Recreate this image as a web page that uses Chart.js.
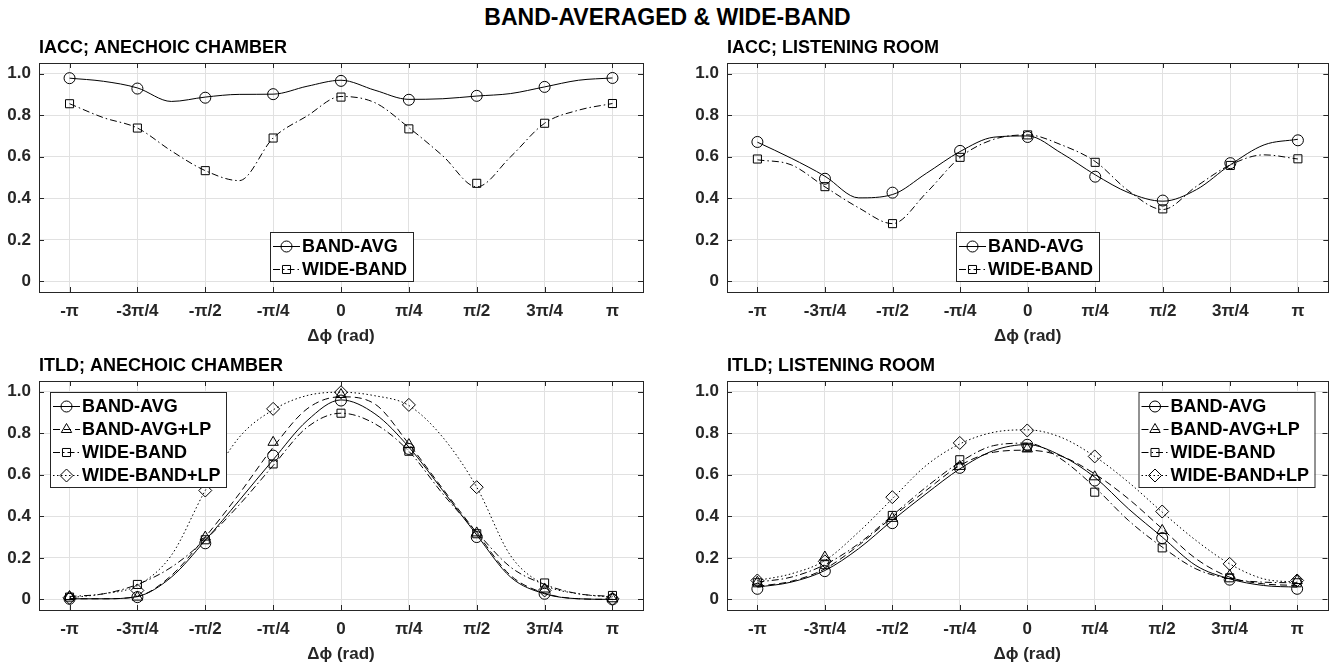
<!DOCTYPE html>
<html>
<head>
<meta charset="utf-8">
<script src="https://cdn.jsdelivr.net/npm/chart.js@4.4.1/dist/chart.umd.min.js"></script>
<style>
  body { margin:0; background:#fff; width:1335px; height:668px; position:relative; overflow:hidden;
         font-family:"Liberation Sans", Arial, sans-serif; }
  #suptitle { position:absolute; left:0; top:4px; width:1335px; text-align:center;
              font-weight:bold; font-size:23px; color:#000; }
  canvas { position:absolute; }
</style>
</head>
<body>
<div id="suptitle">BAND-AVERAGED &amp; WIDE-BAND</div>
<canvas id="c1" width="667" height="318" style="left:0;top:30px"></canvas>
<canvas id="c2" width="667" height="318" style="left:668px;top:30px"></canvas>
<canvas id="c3" width="667" height="318" style="left:0;top:348px"></canvas>
<canvas id="c4" width="667" height="318" style="left:668px;top:348px"></canvas>
<script>
/* x positions in units of pi/4 */
const markerX = [-4, -3, -2, -1, 0, 1, 2, 3, 4];
const curveX = [-4, -3.5, -3, -2.5, -2, -1.5, -1, -0.5, 0, 0.5, 1, 1.5, 2, 2.5, 3, 3.5, 4];
const tickLabels = ['-π', '-3π/4', '-π/2', '-π/4', '0', 'π/4', 'π/2', '3π/4', 'π'];

/* IACC; anechoic chamber */
const iaccAnechoicBandAvgMarks = [0.978, 0.928, 0.884, 0.901, 0.965, 0.874, 0.893, 0.936, 0.979];
const iaccAnechoicBandAvgCurve = [0.978, 0.963, 0.931, 0.866, 0.887, 0.900, 0.901, 0.939, 0.968, 0.920, 0.876, 0.879, 0.892, 0.904, 0.936, 0.968, 0.979];
const iaccAnechoicWideMarks = [0.855, 0.738, 0.533, 0.690, 0.887, 0.734, 0.472, 0.761, 0.856];
const iaccAnechoicWideCurve = [0.855, 0.788, 0.738, 0.628, 0.533, 0.485, 0.690, 0.796, 0.890, 0.860, 0.740, 0.604, 0.455, 0.600, 0.761, 0.824, 0.856];

/* IACC; listening room */
const iaccListeningBandAvgMarks = [0.671, 0.494, 0.427, 0.628, 0.695, 0.504, 0.389, 0.569, 0.679];
const iaccListeningBandAvgCurve = [0.670, 0.593, 0.506, 0.402, 0.418, 0.520, 0.625, 0.694, 0.700, 0.617, 0.513, 0.426, 0.386, 0.442, 0.561, 0.657, 0.684];
const iaccListeningWideMarks = [0.589, 0.456, 0.278, 0.597, 0.705, 0.573, 0.349, 0.558, 0.590];
const iaccListeningWideCurve = [0.585, 0.561, 0.455, 0.354, 0.278, 0.426, 0.597, 0.684, 0.705, 0.657, 0.577, 0.434, 0.346, 0.458, 0.561, 0.609, 0.589];

/* ITLD; anechoic chamber */
const itldAnechoicBandAvgMarks = [0.003, 0.011, 0.270, 0.692, 0.957, 0.724, 0.300, 0.027, 0.000];
const itldAnechoicBandAvgCurve = [0.003, 0.003, 0.014, 0.107, 0.284, 0.476, 0.672, 0.860, 0.960, 0.893, 0.733, 0.524, 0.310, 0.107, 0.027, 0.003, 0.000];
const itldAnechoicBandLpMarks = [0.014, 0.011, 0.300, 0.756, 0.986, 0.745, 0.320, 0.050, 0.003];
const itldAnechoicBandLpCurve = [0.003, 0.003, 0.014, 0.115, 0.300, 0.508, 0.732, 0.917, 0.975, 0.940, 0.748, 0.532, 0.320, 0.115, 0.030, 0.003, 0.000];
const itldAnechoicWideMarks = [0.011, 0.072, 0.287, 0.652, 0.896, 0.713, 0.316, 0.079, 0.019];
const itldAnechoicWideCurve = [0.014, 0.027, 0.072, 0.155, 0.287, 0.455, 0.644, 0.828, 0.896, 0.845, 0.713, 0.508, 0.324, 0.155, 0.072, 0.027, 0.014];
const itldAnechoicWideLpMarks = [0.008, 0.043, 0.524, 0.917, 0.997, 0.936, 0.540, 0.043, 0.003];
const itldAnechoicWideLpCurve = [0.008, 0.027, 0.067, 0.212, 0.524, 0.780, 0.912, 0.981, 0.997, 0.980, 0.933, 0.780, 0.540, 0.210, 0.070, 0.027, 0.011];

/* ITLD; listening room */
const itldListeningBandAvgMarks = [0.051, 0.136, 0.367, 0.633, 0.744, 0.572, 0.295, 0.095, 0.051];
const itldListeningBandAvgCurve = [0.059, 0.083, 0.139, 0.244, 0.380, 0.508, 0.628, 0.716, 0.745, 0.692, 0.588, 0.436, 0.300, 0.163, 0.099, 0.067, 0.059];
const itldListeningBandLpMarks = [0.083, 0.204, 0.390, 0.640, 0.724, 0.590, 0.332, 0.115, 0.091];
const itldListeningBandLpCurve = [0.063, 0.087, 0.147, 0.260, 0.396, 0.524, 0.644, 0.708, 0.718, 0.690, 0.604, 0.484, 0.340, 0.196, 0.107, 0.075, 0.067];
const itldListeningWideMarks = [0.080, 0.167, 0.404, 0.672, 0.732, 0.516, 0.248, 0.104, 0.080];
const itldListeningWideCurve = [0.083, 0.107, 0.167, 0.268, 0.404, 0.540, 0.660, 0.740, 0.752, 0.676, 0.540, 0.380, 0.252, 0.147, 0.099, 0.083, 0.080];
const itldListeningWideLpMarks = [0.091, 0.183, 0.492, 0.753, 0.813, 0.688, 0.423, 0.171, 0.091];
const itldListeningWideLpCurve = [0.091, 0.123, 0.187, 0.324, 0.484, 0.644, 0.748, 0.804, 0.816, 0.780, 0.688, 0.564, 0.420, 0.284, 0.171, 0.099, 0.083];

/* line / marker look per series */
const styles = {
  'BAND-AVG':     { dash: [],             point: 'circle',   r: 5.5 },
  'BAND-AVG+LP':  { dash: [7, 4],         point: 'triangle', r: 6 },
  'WIDE-BAND':    { dash: [7, 3, 1.5, 3], point: 'rect',     r: 5.7 },
  'WIDE-BAND+LP': { dash: [1.5, 2.5],     point: 'rectRot',  r: 6.5 }
};

const FONT = '"Liberation Sans", Arial, sans-serif';
const AXIS = '#262626';
Chart.defaults.font.family = FONT;
Chart.defaults.color = AXIS;

function pts(xs, ys) {
  return xs.map((x, i) => ({ x: x, y: ys[i] }));
}

function drawLegend(chart, series, pos) {
  const ctx = chart.ctx, a = chart.chartArea;
  ctx.save();
  ctx.font = 'bold 18px ' + FONT;
  let tw = 0;
  series.forEach(s => { tw = Math.max(tw, ctx.measureText(s.label).width); });
  const rowH = 23;
  const w = Math.round(tw + 38), h = series.length * rowH + 3;
  let x, y;
  if (pos === 'south') { x = Math.round((a.left + a.right - w) / 2); y = a.bottom - 11 - h; }
  else if (pos === 'northwest') { x = a.left + 11; y = a.top + 11; }
  else { x = a.right - 13 - w; y = a.top + 11; }
  ctx.fillStyle = '#fff';
  ctx.fillRect(x, y, w, h);
  ctx.strokeStyle = AXIS;
  ctx.lineWidth = 1;
  ctx.strokeRect(x + 0.5, y + 0.5, w, h);
  series.forEach((s, i) => {
    const st = styles[s.label];
    const cy = Math.round(y + 2 + rowH / 2 + i * rowH) + 0.5;
    ctx.strokeStyle = '#000';
    ctx.setLineDash(st.dash);
    ctx.beginPath();
    ctx.moveTo(x + 3, cy);
    ctx.lineTo(x + 30, cy);
    ctx.stroke();
    ctx.setLineDash([]);
    ctx.fillStyle = 'rgba(0,0,0,0)';
    Chart.helpers.drawPoint(ctx, { pointStyle: st.point, radius: st.r, borderWidth: 1, rotation: 0 }, x + 16.5, cy);
    ctx.fillStyle = '#000';
    ctx.textAlign = 'left';
    ctx.textBaseline = 'middle';
    ctx.fillText(s.label, x + 32, cy + 1);
  });
  ctx.restore();
}

// matlab-like box, inward ticks, subplot title and legend
const matlabLook = {
  id: 'matlabLook',
  afterDraw(chart, args, opts) {
    const ctx = chart.ctx, a = chart.chartArea;
    const sx = chart.scales.x, sy = chart.scales.y;
    ctx.save();
    ctx.strokeStyle = AXIS;
    ctx.lineWidth = 1;
    ctx.beginPath();
    sx.ticks.forEach(t => {
      const px = Math.round(sx.getPixelForValue(t.value)) + 0.5;
      ctx.moveTo(px, a.bottom); ctx.lineTo(px, a.bottom - 5);
      ctx.moveTo(px, a.top); ctx.lineTo(px, a.top + 5);
    });
    sy.ticks.forEach(t => {
      const py = Math.round(sy.getPixelForValue(t.value)) + 0.5;
      ctx.moveTo(a.left, py); ctx.lineTo(a.left + 5, py);
      ctx.moveTo(a.right, py); ctx.lineTo(a.right - 5, py);
    });
    ctx.stroke();
    ctx.strokeRect(Math.round(a.left) + 0.5, Math.round(a.top) + 0.5,
                   Math.round(a.right - a.left), Math.round(a.bottom - a.top));
    ctx.fillStyle = '#000';
    ctx.font = 'bold 18px ' + FONT;
    ctx.textAlign = 'left';
    ctx.textBaseline = 'middle';
    ctx.fillText(opts.title, a.left, a.top - 15);
    ctx.restore();
    drawLegend(chart, opts.series, opts.legendPos);
  }
};

function makeChart(id, title, series, legendPos, plotLeft, rightPad) {
  const datasets = [];
  series.forEach(s => {
    const st = styles[s.label];
    datasets.push({
      label: s.label,
      data: pts(markerX, s.marks),
      showLine: false,
      pointStyle: st.point,
      pointRadius: st.r,
      pointBorderWidth: 1,
      pointBorderColor: '#000',
      pointBackgroundColor: 'rgba(0,0,0,0)',
      order: 0
    });
    datasets.push({
      label: s.label + ' curve',
      data: pts(curveX, s.curve),
      borderColor: '#000',
      borderWidth: 1,
      borderDash: st.dash,
      pointRadius: 0,
      cubicInterpolationMode: 'monotone',
      order: 1
    });
  });

  return new Chart(document.getElementById(id), {
    type: 'line',
    data: { datasets: datasets },
    options: {
      responsive: false,
      animation: false,
      layout: { padding: { left: 0, right: rightPad, top: 33, bottom: 0 } },
      plugins: {
        legend: { display: false },
        tooltip: { enabled: false },
        matlabLook: { title: title, series: series, legendPos: legendPos }
      },
      scales: {
        x: {
          type: 'linear',
          min: -4.45,
          max: 4.45,
          afterFit: function (scale) { scale.height = 56; },
          grid: { color: '#e1e1e1', drawTicks: false },
          border: { display: false },
          ticks: {
            stepSize: 1,
            includeBounds: false,
            autoSkip: false,
            maxRotation: 0,
            padding: 9,
            color: AXIS,
            font: { size: 17, weight: 'bold' },
            callback: v => tickLabels[Math.round(v) + 4]
          },
          title: {
            display: true,
            text: 'Δϕ (rad)',
            color: AXIS,
            font: { size: 17, weight: 'bold' },
            padding: { top: 0, bottom: 1 }
          }
        },
        y: {
          min: -0.051,
          max: 1.051,
          afterFit: function (scale) { scale.width = plotLeft; },
          grid: { color: '#e1e1e1', drawTicks: false },
          border: { display: false },
          ticks: {
            stepSize: 0.1,
            includeBounds: false,
            padding: 8,
            color: AXIS,
            font: { size: 17, weight: 'bold' },
            callback: function (v) {
              const k = Math.round(v * 10);
              if (k % 2 !== 0) return '';
              return k === 0 ? '0' : (k / 10).toFixed(1);
            }
          }
        }
      }
    },
    plugins: [matlabLook]
  });
}

makeChart('c1', 'IACC; ANECHOIC CHAMBER', [
  { label: 'BAND-AVG', marks: iaccAnechoicBandAvgMarks, curve: iaccAnechoicBandAvgCurve },
  { label: 'WIDE-BAND', marks: iaccAnechoicWideMarks, curve: iaccAnechoicWideCurve }
], 'south', 39, 24);

makeChart('c2', 'IACC; LISTENING ROOM', [
  { label: 'BAND-AVG', marks: iaccListeningBandAvgMarks, curve: iaccListeningBandAvgCurve },
  { label: 'WIDE-BAND', marks: iaccListeningWideMarks, curve: iaccListeningWideCurve }
], 'south', 59, 4);

makeChart('c3', 'ITLD; ANECHOIC CHAMBER', [
  { label: 'BAND-AVG', marks: itldAnechoicBandAvgMarks, curve: itldAnechoicBandAvgCurve },
  { label: 'BAND-AVG+LP', marks: itldAnechoicBandLpMarks, curve: itldAnechoicBandLpCurve },
  { label: 'WIDE-BAND', marks: itldAnechoicWideMarks, curve: itldAnechoicWideCurve },
  { label: 'WIDE-BAND+LP', marks: itldAnechoicWideLpMarks, curve: itldAnechoicWideLpCurve }
], 'northwest', 39, 24);

makeChart('c4', 'ITLD; LISTENING ROOM', [
  { label: 'BAND-AVG', marks: itldListeningBandAvgMarks, curve: itldListeningBandAvgCurve },
  { label: 'BAND-AVG+LP', marks: itldListeningBandLpMarks, curve: itldListeningBandLpCurve },
  { label: 'WIDE-BAND', marks: itldListeningWideMarks, curve: itldListeningWideCurve },
  { label: 'WIDE-BAND+LP', marks: itldListeningWideLpMarks, curve: itldListeningWideLpCurve }
], 'northeast', 59, 4);
</script>
</body>
</html>
